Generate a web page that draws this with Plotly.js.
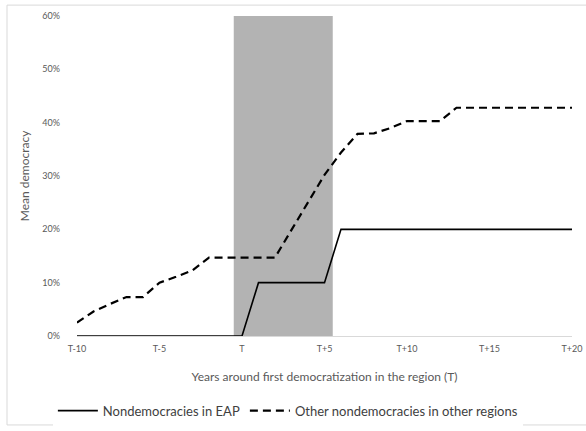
<!DOCTYPE html>
<html>
<head>
<meta charset="utf-8">
<script src="https://cdn.plot.ly/plotly-3.0.1.min.js"></script>
<style>
html,body{margin:0;padding:0;background:#fff;}
#chart{width:586px;height:431px;}
</style>
</head>
<body>
<div id="chart"></div>
<script>
// Years relative to first democratization in the region (T)
const years = [-10,-9,-8,-7,-6,-5,-4,-3,-2,-1,0,1,2,3,4,5,6,7,8,9,10,11,12,13,14,15,16,17,18,19,20];
const eapValues = [0,0,0,0,0,0,0,0,0,0,0,0.10,0.10,0.10,0.10,0.10,0.20,0.20,0.20,0.20,0.20,0.20,0.20,0.20,0.20,0.20,0.20,0.20,0.20,0.20,0.20];
const otherValues = [0.025,0.046,0.060,0.073,0.073,0.100,0.111,0.123,0.147,0.147,0.147,0.147,0.147,0.199,0.251,0.302,0.344,0.379,0.380,0.390,0.403,0.403,0.403,0.428,0.428,0.428,0.428,0.428,0.428,0.428,0.428];
const tickYears = [-10,-5,0,5,10,15,20];
const tickLabels = ["T-10","T-5","T","T+5","T+10","T+15","T+20"];
const seriesNames = ["Nondemocracies in EAP","Other nondemocracies in other regions"];
const bandStart = -0.5, bandEnd = 5.5, bandTop = 0.6;

const font = "Lato, 'Open Sans', sans-serif";
const traces = [
  {x: years, y: eapValues, name: seriesNames[0], type: 'scatter', mode: 'lines',
   line: {color: '#000000', width: 1.6}},
  {x: years, y: otherValues, name: seriesNames[1], type: 'scatter', mode: 'lines',
   line: {color: '#000000', width: 2.2, dash: '8px,5px'}}
];
const layout = {
  width: 586, height: 431,
  margin: {l: 77, r: 14, t: 16, b: 95, autoexpand: false},
  paper_bgcolor: '#ffffff', plot_bgcolor: 'rgba(0,0,0,0)',
  font: {family: font, color: '#595959'},
  showlegend: true,
  legend: {orientation: 'h', x: 0.426, xanchor: 'center', yref: 'container', y: 0.082, yanchor: 'top',
           font: {size: 13, color: '#404040', family: font}, itemwidth: 40, tracegroupgap: 0},
  xaxis: {range: [-10, 20], tickvals: tickYears, ticktext: tickLabels, automargin: false,
          showgrid: false, zeroline: false, showline: false, ticks: '',
          ticklabelstandoff: 6,
          tickfont: {size: 9, color: '#595959'},
          title: {text: 'Years around first democratization in the region (T)', font: {size: 12, color: '#595959'}, standoff: 19}},
  yaxis: {range: [0, 0.6], dtick: 0.1, tickformat: '.0%', showgrid: false, automargin: false,
          zeroline: true, zerolinecolor: '#d9d9d9', zerolinewidth: 1, showline: false, ticks: '',
          ticklabelstandoff: 16,
          tickfont: {size: 9, color: '#595959'},
          title: {text: 'Mean democracy', font: {size: 12, color: '#595959'}, standoff: 10}},
  shapes: [
    {type: 'rect', xref: 'x', yref: 'y', x0: bandStart, x1: bandEnd, y0: 0, y1: bandTop,
     fillcolor: '#b3b3b3', line: {width: 0}, layer: 'below'},
    {type: 'rect', xref: 'paper', yref: 'paper', x0: -0.1414, x1: 1.03, y0: -0.278, y1: 1.034,
     fillcolor: 'rgba(0,0,0,0)', line: {color: '#d9d9d9', width: 1}, layer: 'above'}
  ]
};
Plotly.newPlot('chart', traces, layout, {displayModeBar: false, staticPlot: true});
</script>
</body>
</html>
